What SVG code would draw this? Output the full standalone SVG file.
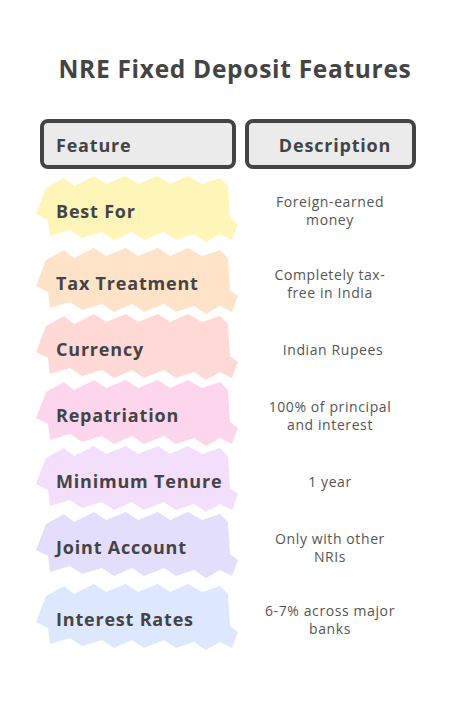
<svg xmlns="http://www.w3.org/2000/svg" width="456" height="708" viewBox="0 0 456 708">
<style>
.title{font-family:"Open Sans","DejaVu Sans",sans-serif;font-weight:700;font-size:24.5px;letter-spacing:0.7px;fill:#444}
.lab{font-family:"Open Sans","DejaVu Sans",sans-serif;font-weight:700;font-size:18px;letter-spacing:0.8px;fill:#444}
.desc{font-family:"Open Sans","DejaVu Sans",sans-serif;font-size:14px;letter-spacing:0.6px;fill:#555;text-anchor:middle}
.hdr{fill:#ebebeb;stroke:#444;stroke-width:4}
</style>
<defs>
<path id="blob" d="M-90,-22 L-72,-32 L-62,-24 L-42,-34 L-30,-26 L-10,-34 L2,-26 L22,-34 L34,-26 L52,-34 L66,-26 L84,-32 L92,-24 L94,8 L102,14 L96,30 L84,24 L70,32 L58,24 L40,30 L28,22 L8,30 L-4,22 L-22,30 L-34,22 L-54,28 L-66,20 L-86,26 L-88,10 L-100,4 Z"/>
</defs>
<rect width="456" height="708" fill="#fff"/>
<text class="title" x="235" y="78" text-anchor="middle">NRE Fixed Deposit Features</text>
<g id="header-feature">
<rect class="hdr" x="42" y="121" width="192" height="46" rx="6"/>
<text class="lab" x="56" y="152">Feature</text>
</g>
<g id="header-description">
<rect class="hdr" x="247" y="121" width="167" height="46" rx="6"/>
<text class="lab" x="335" y="152" text-anchor="middle">Description</text>
</g>
<g id="row-best-for">
<use href="#blob" x="136" y="210" fill="#fff5b8"/>
<text class="lab" x="56" y="218">Best For</text>
<text class="desc" x="330" y="207">Foreign-earned</text>
<text class="desc" x="330" y="225">money</text>
</g>
<g id="row-tax">
<use href="#blob" x="136" y="282" fill="#ffe3c9"/>
<text class="lab" x="56" y="290">Tax Treatment</text>
<text class="desc" x="330" y="280">Completely tax-</text>
<text class="desc" x="330" y="298">free in India</text>
</g>
<g id="row-currency">
<use href="#blob" x="136" y="348" fill="#ffd9d6"/>
<text class="lab" x="56" y="356">Currency</text>
<text class="desc" x="333" y="355">Indian Rupees</text>
</g>
<g id="row-repatriation">
<use href="#blob" x="136" y="414" fill="#fdd6ee"/>
<text class="lab" x="56" y="422">Repatriation</text>
<text class="desc" x="330" y="412">100% of principal</text>
<text class="desc" x="330" y="430">and interest</text>
</g>
<g id="row-tenure">
<use href="#blob" x="136" y="480" fill="#f3defb"/>
<text class="lab" x="56" y="488">Minimum Tenure</text>
<text class="desc" x="330" y="487">1 year</text>
</g>
<g id="row-joint">
<use href="#blob" x="136" y="546" fill="#e4defd"/>
<text class="lab" x="56" y="554">Joint Account</text>
<text class="desc" x="330" y="544">Only with other</text>
<text class="desc" x="330" y="562">NRIs</text>
</g>
<g id="row-interest">
<use href="#blob" x="136" y="618" fill="#dde7fd"/>
<text class="lab" x="56" y="626">Interest Rates</text>
<text class="desc" x="330" y="616">6-7% across major</text>
<text class="desc" x="330" y="634">banks</text>
</g>
</svg>
